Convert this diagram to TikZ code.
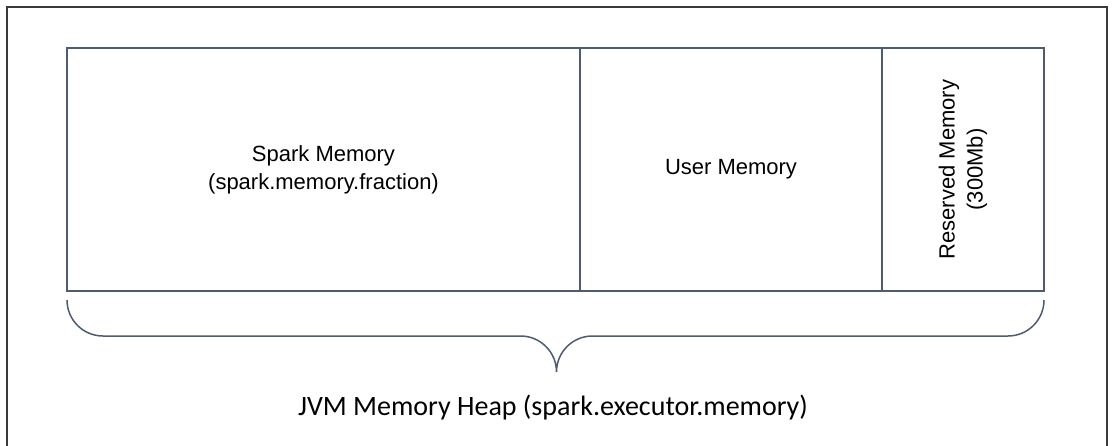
\documentclass[tikz,border=0pt]{standalone}
\usepackage{fontspec}
\setmainfont{Liberation Sans}
\newfontfamily\heapfont{Carlito}
\usetikzlibrary{positioning,calc}
\definecolor{boxline}{HTML}{4E5B70}
\definecolor{frameline}{HTML}{3A3A3A}

\begin{document}
\begin{tikzpicture}[x=1pt,y=1pt]
\useasboundingbox (0,0) rectangle (1113,445);

% Define the node styles
\tikzstyle{part}=[rectangle, draw=boxline, line width=1.5pt, minimum height=243pt, inner sep=0pt, outer sep=0pt, align=center, font=\fontsize{22}{28}\selectfont]
\tikzstyle{heap}=[font=\heapfont\fontsize{28}{34}\selectfont]
\tikzstyle{bracket}=[boxline, line width=1.5pt]

% Outer frame
\draw[frameline, line width=2.5pt] (7,-10) rectangle (1107,438);

% Define the nodes
\node[part, minimum width=513pt, anchor=north west] (spark) at (67,397) {Spark Memory\\(spark.memory.fraction)};
\node[part, minimum width=302pt, right=0pt of spark] (user) {User Memory};
\node[part, minimum width=162pt, right=0pt of user] (reserved) {};
\node[rotate=90, align=center, font=\fontsize{22}{28}\selectfont] (reservedtext) at (reserved.center) {Reserved Memory\\(300Mb)};
\node[heap, anchor=base] (heaplabel) at (553,30) {JVM Memory Heap (spark.executor.memory)};

% Brace ends and tip
\coordinate (bl) at ([yshift=-9pt]spark.south west);
\coordinate (br) at ([yshift=-9pt]reserved.south east);
\coordinate (tip) at ($(bl)!0.5!(br)+(1,-72)$);

% Add the edges
\draw[boxline, line width=2pt] (spark.north east) -- (spark.south east);
\draw[bracket] (bl) arc[start angle=180, end angle=270, radius=36]
  -- ([shift={(-36,36)}]tip) arc[start angle=90, end angle=0, radius=36]
  arc[start angle=180, end angle=90, radius=36]
  -- ([shift={(-36,-36)}]br) arc[start angle=270, end angle=360, radius=36];

\end{tikzpicture}
\end{document}
